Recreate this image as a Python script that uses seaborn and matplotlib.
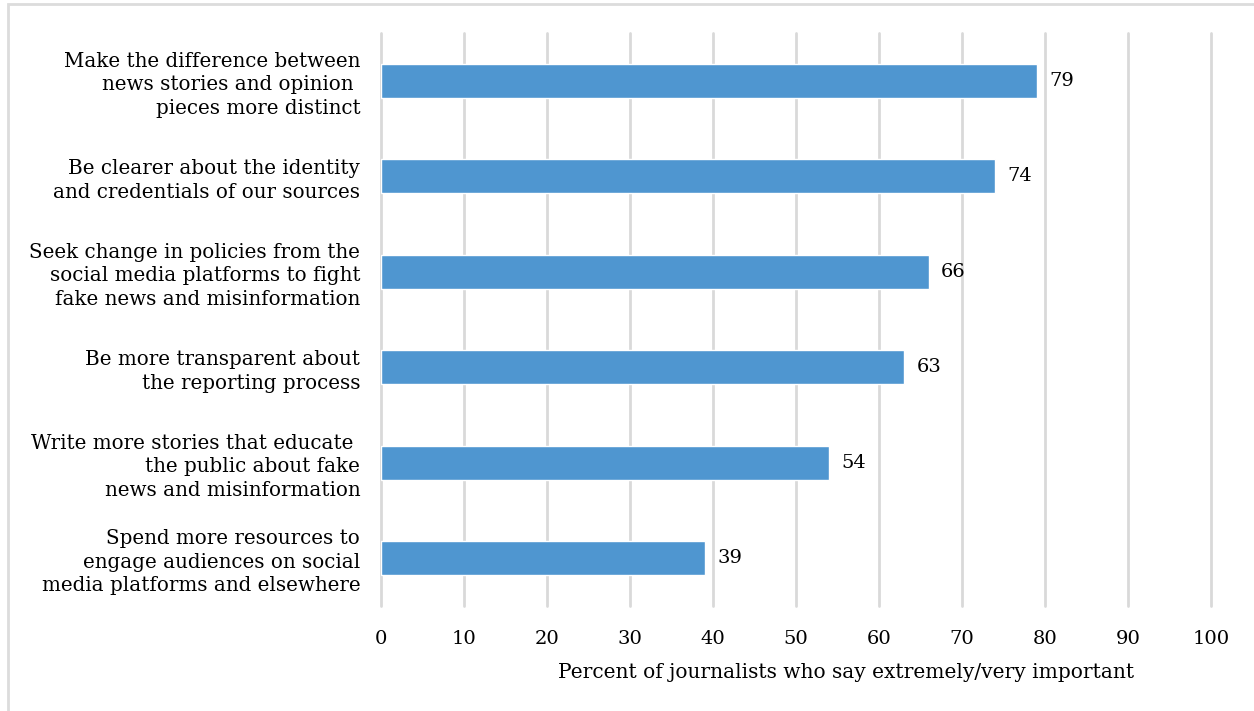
import matplotlib
matplotlib.use("Agg")
import matplotlib.pyplot as plt
import seaborn as sns
import pandas as pd
from matplotlib.patches import Rectangle

# Dados
categorias = [
    "Make the difference between\nnews stories and opinion \npieces more distinct",
    "Be clearer about the identity\nand credentials of our sources",
    "Seek change in policies from the\nsocial media platforms to fight\nfake news and misinformation",
    "Be more transparent about\nthe reporting process",
    "Write more stories that educate \nthe public about fake\nnews and misinformation",
    "Spend more resources to\nengage audiences on social\nmedia platforms and elsewhere",
]
valores = [79, 74, 66, 63, 54, 39]
ticks_x = [0, 10, 20, 30, 40, 50, 60, 70, 80, 90, 100]

df = pd.DataFrame({"categoria": categorias, "valor": valores})

sns.set_style("white")
plt.rcParams["font.family"] = ["DejaVu Serif"]
plt.rcParams["text.color"] = "black"
plt.rcParams["axes.labelcolor"] = "black"
plt.rcParams["xtick.color"] = "black"
plt.rcParams["ytick.color"] = "black"

fig = plt.figure(figsize=(12.54, 7.11), dpi=100)
ax = fig.add_axes([0.3038, 0.1477, 0.6619, 0.8059])

sns.barplot(data=df, x="valor", y="categoria", color="#4f96d0", width=0.36,
            saturation=1, ax=ax, zorder=3)

ax.set_xlim(0, 100)
ax.set_ylim(5.5, -0.5)
ax.set_xticks(ticks_x)
ax.set_xticklabels([str(t) for t in ticks_x], fontsize=14)
ax.tick_params(axis="x", length=0, pad=17)
ax.tick_params(axis="y", length=0, pad=15, labelsize=14.3)
for lab in ax.get_yticklabels():
    lab.set_horizontalalignment("right")
    lab.set_multialignment("right")
    lab.set_linespacing(1.3)

ax.xaxis.grid(True, color="#d9d9d9", linewidth=2)
for gl in ax.get_xgridlines():
    gl.set_clip_on(False)
ax.yaxis.grid(False)
for s in ax.spines.values():
    s.set_visible(False)

for i, v in enumerate(valores):
    ax.text(v + 1.5, i, str(v), va="center", ha="left", fontsize=14, color="black")

ax.set_xlabel("Percent of journalists who say extremely/very important", fontsize=14.5)
ax.xaxis.set_label_coords(0.56, -0.1)
ax.set_ylabel("")

# borda da figura
fig.patches.append(Rectangle((8 / 1254, -0.1), 1.2, 1 - 4 / 711 + 0.1, transform=fig.transFigure,
                             fill=False, edgecolor="#dcdcdc", linewidth=2))

fig.savefig("out.png", dpi=100)
